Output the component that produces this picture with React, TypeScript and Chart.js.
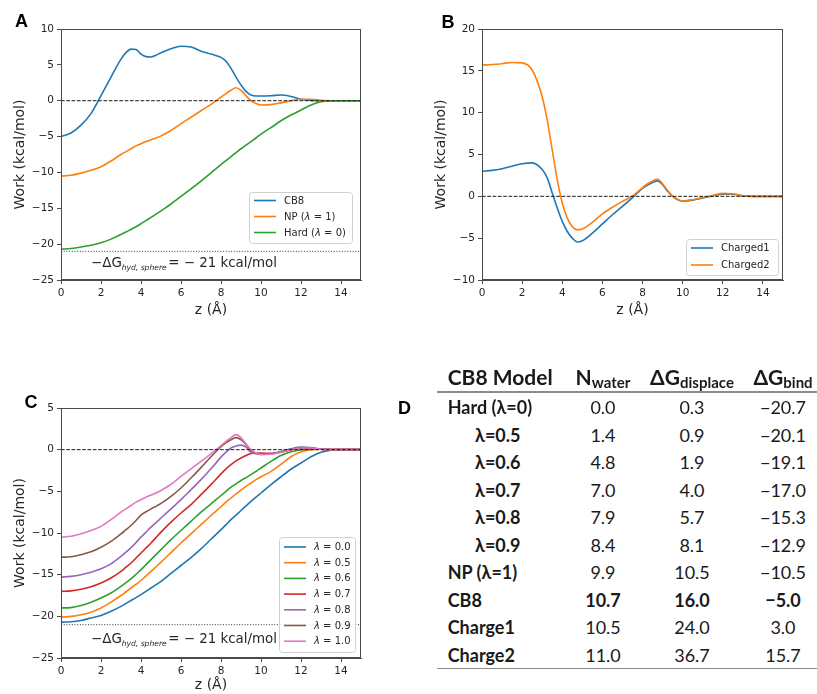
import React, { useEffect, useRef } from 'react';
import { Chart, registerables } from 'chart.js';

Chart.register(...registerables);

// ---------------- data ----------------
const Z = [0, 0.5, 1, 1.5, 2, 2.5, 3, 3.25, 3.5, 3.75, 4, 4.25, 4.5, 4.75, 5, 5.5, 6, 6.5, 7, 7.5, 8, 8.25, 8.5, 8.75, 9, 9.25, 9.5, 9.75, 10, 10.5, 11, 11.5, 12, 12.5, 13, 13.5, 14, 14.5, 15];

// Panel A
const CB8 = [-5.0, -4.5, -3.4, -1.8, 0.7, 3.3, 5.8, 6.7, 7.2, 7.15, 6.5, 6.15, 6.1, 6.35, 6.7, 7.25, 7.6, 7.5, 6.9, 6.5, 6.05, 5.5, 4.5, 3.3, 2.2, 1.3, 0.8, 0.65, 0.65, 0.7, 0.8, 0.6, 0.2, 0.05, 0, 0, 0, 0, 0];
const NP = [-10.5, -10.4, -10.1, -9.7, -9.2, -8.4, -7.5, -7.1, -6.7, -6.3, -6.0, -5.7, -5.45, -5.2, -4.9, -4.15, -3.2, -2.3, -1.4, -0.5, 0.5, 1.0, 1.45, 1.8, 1.45, 0.7, 0.0, -0.4, -0.6, -0.55, -0.3, 0.0, 0.2, 0.2, 0.05, 0, 0, 0, 0];
const HARD = [-20.7, -20.6, -20.4, -20.15, -19.8, -19.3, -18.65, -18.3, -17.95, -17.58, -17.15, -16.72, -16.27, -15.82, -15.35, -14.4, -13.35, -12.3, -11.2, -10.05, -8.9, -8.35, -7.8, -7.25, -6.7, -6.2, -5.7, -5.2, -4.65, -3.75, -2.8, -2.0, -1.3, -0.6, -0.15, 0, 0, 0, 0];

// Panel B
const CHARGED1 = [3.0, 3.1, 3.3, 3.6, 3.9, 4.0, 3.2, 2.2, 0.4, -1.4, -3.0, -4.2, -5.0, -5.45, -5.3, -4.4, -3.3, -2.2, -1.2, -0.15, 0.95, 1.35, 1.65, 1.85, 1.4, 0.6, 0.0, -0.4, -0.55, -0.45, -0.2, 0.05, 0.25, 0.25, 0.05, 0, 0, 0, 0];
const CHARGED2 = [15.7, 15.75, 15.85, 16.0, 15.95, 15.1, 11.9, 9.1, 5.55, 2.0, -0.8, -2.6, -3.6, -4.0, -3.9, -3.1, -2.1, -1.3, -0.6, 0.05, 1.05, 1.5, 1.85, 2.05, 1.5, 0.7, 0.05, -0.35, -0.55, -0.4, -0.15, 0.1, 0.35, 0.3, 0.05, 0, 0, 0, 0];

// Panel C
const L00 = [-20.7, -20.65, -20.5, -20.2, -19.9, -19.4, -18.8, -18.45, -18.1, -17.75, -17.4, -17.0, -16.6, -16.2, -15.8, -14.85, -13.9, -12.95, -11.9, -10.75, -9.6, -9.0, -8.4, -7.85, -7.3, -6.75, -6.2, -5.7, -5.2, -4.2, -3.25, -2.35, -1.6, -0.85, -0.3, -0.05, 0, 0, 0];
const L05 = [-20.1, -20.0, -19.8, -19.5, -19.0, -18.3, -17.5, -17.05, -16.6, -16.15, -15.7, -15.15, -14.6, -14.05, -13.5, -12.35, -11.2, -10.1, -9.0, -7.9, -6.85, -6.3, -5.8, -5.3, -4.85, -4.4, -4.0, -3.6, -3.25, -2.6, -1.75, -0.85, -0.25, 0.0, 0.05, 0, 0, 0, 0];
const L06 = [-19.0, -18.95, -18.7, -18.3, -17.8, -17.2, -16.4, -15.95, -15.5, -14.95, -14.4, -13.8, -13.2, -12.6, -12.0, -10.8, -9.7, -8.6, -7.5, -6.5, -5.5, -5.0, -4.5, -4.1, -3.7, -3.35, -3.0, -2.6, -2.2, -1.4, -0.7, -0.25, 0.0, 0.1, 0.05, 0, 0, 0, 0];
const L07 = [-17.0, -16.95, -16.75, -16.45, -16.0, -15.4, -14.6, -14.1, -13.6, -13.0, -12.4, -11.8, -11.2, -10.55, -9.9, -8.7, -7.6, -6.6, -5.4, -4.2, -2.9, -2.3, -1.8, -1.35, -1.0, -0.7, -0.45, -0.4, -0.4, -0.45, -0.3, 0.0, 0.15, 0.15, 0.05, 0, 0, 0, 0];
const L08 = [-15.3, -15.2, -15.0, -14.7, -14.3, -13.7, -12.8, -12.3, -11.75, -11.15, -10.5, -9.9, -9.3, -8.75, -8.2, -7.1, -6.0, -4.8, -3.6, -2.3, -0.9, -0.3, 0.2, 0.45, 0.55, 0.3, -0.3, -0.5, -0.55, -0.5, -0.25, 0.1, 0.3, 0.25, 0.05, 0, 0, 0, 0];
const L09 = [-12.9, -12.85, -12.6, -12.25, -11.7, -11.0, -10.1, -9.6, -9.1, -8.5, -7.85, -7.45, -7.1, -6.8, -6.45, -5.6, -4.6, -3.4, -2.15, -0.85, 0.35, 0.85, 1.2, 1.45, 1.2, 0.6, -0.1, -0.45, -0.55, -0.5, -0.25, 0.05, 0.25, 0.2, 0.05, 0, 0, 0, 0];
const L10 = NP;

const X_TICKS = [0, 2, 4, 6, 8, 10, 12, 14];
const A_Y_TICKS = [-25, -20, -15, -10, -5, 0, 5, 10];
const B_Y_TICKS = [-10, -5, 0, 5, 10, 15, 20];
const C_Y_TICKS = [-25, -20, -15, -10, -5, 0, 5];
const HYD_SPHERE = -21;

// Table D
const MODELS = ['Hard (λ=0)', 'λ=0.5', 'λ=0.6', 'λ=0.7', 'λ=0.8', 'λ=0.9', 'NP (λ=1)', 'CB8', 'Charge1', 'Charge2'];
const INDENTED = [false, true, true, true, true, true, false, false, false, false];
const N_WATER = [0.0, 1.4, 4.8, 7.0, 7.9, 8.4, 9.9, 10.7, 10.5, 11.0];
const DG_DISPLACE = [0.3, 0.9, 1.9, 4.0, 5.7, 8.1, 10.5, 16.0, 24.0, 36.7];
const DG_BIND = [-20.7, -20.1, -19.1, -17.0, -15.3, -12.9, -10.5, -5.0, 3.0, 15.7];
const BOLD_MODEL = 'CB8';

// ---------------- styles ----------------
const FONT = '"DejaVu Sans", sans-serif';
const INK = '#262626';
const SPINE = '#4a4a4a';
const C_BLUE = '#1f77b4';
const C_ORANGE = '#ff7f0e';
const C_GREEN = '#2ca02c';
const C_RED = '#d62728';
const C_PURPLE = '#9467bd';
const C_BROWN = '#8c564b';
const C_PINK = '#e377c2';

const fmtTick = (v: any) => {
  const n = Number(v);
  return n < 0 ? '\u2212' + Math.abs(n) : String(n);
};
const fmtNum = (n: number) => (n < 0 ? '\u2212' + Math.abs(n).toFixed(1) : n.toFixed(1));

function series(label: string, ys: number[], color: string) {
  return {
    label,
    data: Z.map((z, i) => ({ x: z, y: ys[i] })),
    borderColor: color,
    backgroundColor: color,
    borderWidth: 1.6,
    pointRadius: 0,
    cubicInterpolationMode: 'monotone',
    fill: false,
  };
}

function refLine(y: number, dash: number[], color: string) {
  return {
    label: '',
    data: [{ x: 0, y }, { x: 15, y }],
    borderColor: color,
    borderWidth: 1,
    borderDash: dash,
    pointRadius: 0,
    fill: false,
  };
}

function drawMixed(ctx: CanvasRenderingContext2D, text: string, x: number, y: number, size: number) {
  const parts = text.split(/(λ)/);
  let cx = x;
  for (const p of parts) {
    if (!p) continue;
    ctx.font = (p === 'λ' ? 'italic ' : '') + size + 'px ' + FONT;
    ctx.fillText(p, cx, y);
    cx += ctx.measureText(p).width;
  }
}

const decorPlugin = {
  id: 'decor',
  afterDatasetsDraw(chart: any, _args: any, opts: any) {
    const { ctx, chartArea: a } = chart;
    ctx.save();
    // frame (all four spines)
    ctx.strokeStyle = SPINE;
    ctx.lineWidth = 1;
    ctx.setLineDash([]);
    ctx.strokeRect(Math.round(a.left) + 0.5, Math.round(a.top) + 0.5, Math.round(a.right - a.left) - 1, Math.round(a.bottom - a.top) - 1);

    // annotation: −ΔG_{hyd, sphere} = − 21 kcal/mol
    if (opts && opts.note) {
      const { x, y, main, subWidth } = opts.note;
      ctx.fillStyle = INK;
      ctx.textBaseline = 'alphabetic';
      ctx.textAlign = 'left';
      let cx = x;
      ctx.font = main + 'px ' + FONT;
      ctx.fillText('\u2212ΔG', cx, y);
      cx += ctx.measureText('\u2212ΔG').width;
      const subText = 'hyd, sphere';
      ctx.font = 'italic 10px ' + FONT;
      const subSize = (10 * subWidth) / ctx.measureText(subText).width;
      ctx.font = 'italic ' + subSize + 'px ' + FONT;
      ctx.fillText(subText, cx, y + main * 0.22);
      cx += ctx.measureText(subText).width + 1.5;
      ctx.font = main + 'px ' + FONT;
      ctx.fillText('= \u2212 21 kcal/mol', cx, y);
    }

    // legend
    if (opts && opts.legend) {
      const { x, y, w, h, first, rowH } = opts.legend;
      ctx.beginPath();
      (ctx as any).roundRect(x + 0.5, y + 0.5, w, h, 3);
      ctx.fillStyle = 'rgba(255,255,255,0.85)';
      ctx.fill();
      ctx.strokeStyle = '#d0d0d0';
      ctx.lineWidth = 1;
      ctx.stroke();
      const items = chart.data.datasets.filter((d: any) => d.label);
      items.forEach((d: any, i: number) => {
        const cy = y + first + i * rowH;
        ctx.beginPath();
        ctx.strokeStyle = d.borderColor;
        ctx.lineWidth = 1.6;
        ctx.moveTo(x + 5, cy);
        ctx.lineTo(x + 27, cy);
        ctx.stroke();
        ctx.fillStyle = INK;
        ctx.textBaseline = 'middle';
        ctx.textAlign = 'left';
        drawMixed(ctx, d.label, x + 35, cy + 0.5, 10);
      });
    }
    ctx.restore();
  },
};

function buildConfig(p: any) {
  const datasets = p.datasets.map((d: any, i: number) => ({ ...d, order: p.datasets.length - i }));
  return {
    type: 'line',
    data: { datasets },
    plugins: [decorPlugin],
    options: {
      animation: false,
      responsive: false,
      devicePixelRatio: 1,
      layout: { padding: p.pad },
      plugins: {
        legend: { display: false },
        tooltip: { enabled: false },
        decor: { legend: p.legend, note: p.note },
      },
      scales: {
        x: {
          type: 'linear',
          min: 0,
          max: 15,
          afterBuildTicks: (s: any) => {
            s.ticks = X_TICKS.map((v) => ({ value: v }));
          },
          afterFit: (s: any) => {
            s.height = p.xH;
          },
          ticks: { color: INK, font: { family: FONT, size: 10.5 }, padding: 3, maxRotation: 0, callback: fmtTick },
          grid: { display: true, drawOnChartArea: false, drawTicks: true, tickLength: 4, color: SPINE, tickColor: SPINE },
          border: { display: true, color: SPINE, width: 1 },
          title: { display: true, text: 'z (Å)', color: INK, font: { family: FONT, size: 14 }, padding: { top: 0, bottom: p.xTitlePad } },
        },
        y: {
          type: 'linear',
          min: p.yTicks[0],
          max: p.yTicks[p.yTicks.length - 1],
          afterBuildTicks: (s: any) => {
            s.ticks = p.yTicks.map((v: number) => ({ value: v }));
          },
          afterFit: (s: any) => {
            s.width = p.yW;
          },
          ticks: { color: INK, font: { family: FONT, size: 10.5 }, padding: 3, callback: fmtTick },
          grid: { display: true, drawOnChartArea: false, drawTicks: true, tickLength: 4, color: SPINE, tickColor: SPINE },
          border: { display: true, color: SPINE, width: 1 },
          title: { display: true, text: 'Work (kcal/mol)', color: INK, font: { family: FONT, size: 14 }, padding: { top: p.yTitlePad, bottom: 0 } },
        },
      },
    },
  };
}

const ZERO_DASH = [3.7, 1.6];
const DOT_DASH = [1, 1.7];

const configA = () =>
  buildConfig({
    datasets: [
      series('CB8', CB8, C_BLUE),
      series('NP (λ = 1)', NP, C_ORANGE),
      series('Hard (λ = 0)', HARD, C_GREEN),
      refLine(0, ZERO_DASH, '#1a1a1a'),
      refLine(HYD_SPHERE, DOT_DASH, '#333'),
    ],
    yTicks: A_Y_TICKS,
    pad: { left: 0, top: 29, right: 49, bottom: 0 },
    yW: 61,
    xH: 50,
    yTitlePad: 11.6,
    xTitlePad: 11.6,
    legend: { x: 249, y: 192, w: 103, h: 51, first: 8.5, rowH: 16 },
    note: { x: 91, y: 267, main: 13.4, subWidth: 45 },
  });

const configB = () =>
  buildConfig({
    datasets: [series('Charged1', CHARGED1, C_BLUE), series('Charged2', CHARGED2, C_ORANGE), refLine(0, ZERO_DASH, '#1a1a1a')],
    yTicks: B_Y_TICKS,
    pad: { left: 0, top: 29, right: 34, bottom: 0 },
    yW: 72,
    xH: 50,
    yTitlePad: 23.3,
    xTitlePad: 11.6,
    legend: { x: 276, y: 239, w: 92, h: 36, first: 9, rowH: 17 },
    note: null,
  });

const configC = () =>
  buildConfig({
    datasets: [
      series('λ = 0.0', L00, C_BLUE),
      series('λ = 0.5', L05, C_ORANGE),
      series('λ = 0.6', L06, C_GREEN),
      series('λ = 0.7', L07, C_RED),
      series('λ = 0.8', L08, C_PURPLE),
      series('λ = 0.9', L09, C_BROWN),
      series('λ = 1.0', L10, C_PINK),
      refLine(0, ZERO_DASH, '#1a1a1a'),
      refLine(HYD_SPHERE, DOT_DASH, '#333'),
    ],
    yTicks: C_Y_TICKS,
    pad: { left: 0, top: 78, right: 49, bottom: 0 },
    yW: 61,
    xH: 36,
    yTitlePad: 11.6,
    xTitlePad: 0,
    legend: { x: 279, y: 207, w: 76, h: 115, first: 10, rowH: 15.7 },
    note: { x: 91, y: 313, main: 13.4, subWidth: 45 },
  });

function ChartBox({ left, top, width, height, make }: any) {
  const ref = useRef<HTMLCanvasElement>(null);
  useEffect(() => {
    const chart = new Chart(ref.current as HTMLCanvasElement, make() as any);
    return () => chart.destroy();
  }, []);
  return <canvas ref={ref} width={width} height={height} style={{ position: 'absolute', left, top, width, height }} />;
}

const LETTER_STYLE: any = {
  position: 'absolute',
  fontFamily: '"Liberation Sans", Arial, sans-serif',
  fontWeight: 'bold',
  fontSize: 18,
  lineHeight: '18px',
  color: '#000',
};

const TABLE_FONT = 'Lato, "Open Sans", sans-serif';
const TEXT_COLOR = '#1a1a1a';

function HeaderCell({ center, main, sub }: any) {
  return (
    <div
      style={{
        position: 'absolute',
        left: center,
        top: 363,
        transform: 'translateX(-50%)',
        whiteSpace: 'nowrap',
        fontFamily: TABLE_FONT,
        fontWeight: 'bold',
        fontSize: 21,
        lineHeight: '28px',
        color: TEXT_COLOR,
      }}
    >
      {main}
      <span style={{ fontSize: 15, position: 'relative', top: 3 }}>{sub}</span>
    </div>
  );
}

function TableD() {
  const rowTop = (i: number) => 407.7 + i * 27.5 - 14.5;
  const cell = (i: number, bold: boolean): any => ({
    position: 'absolute',
    top: rowTop(i),
    whiteSpace: 'nowrap',
    fontFamily: TABLE_FONT,
    fontSize: 18,
    lineHeight: '28px',
    fontWeight: bold ? 'bold' : 'normal',
    color: TEXT_COLOR,
  });
  return (
    <>
      <div
        style={{
          position: 'absolute',
          left: 447.7,
          top: 363,
          whiteSpace: 'nowrap',
          fontFamily: TABLE_FONT,
          fontWeight: 'bold',
          fontSize: 21,
          lineHeight: '28px',
          color: TEXT_COLOR,
        }}
      >
        CB8 Model
      </div>
      <HeaderCell center={603} main="N" sub="water" />
      <HeaderCell center={692} main="ΔG" sub="displace" />
      <HeaderCell center={783} main="ΔG" sub="bind" />
      <div style={{ position: 'absolute', left: 437, top: 391, width: 380, height: 1.5, background: '#8c8c8c' }} />
      <div style={{ position: 'absolute', left: 437, top: 667.5, width: 380, height: 1.5, background: '#8c8c8c' }} />
      {MODELS.map((m, i) => {
        const strong = m === BOLD_MODEL;
        return (
          <React.Fragment key={m}>
            <div style={{ ...cell(i, true), left: INDENTED[i] ? 475 : 447.7 }}>{m}</div>
            <div style={{ ...cell(i, strong), left: 603, transform: 'translateX(-50%)' }}>{fmtNum(N_WATER[i])}</div>
            <div style={{ ...cell(i, strong), left: 692, transform: 'translateX(-50%)' }}>{fmtNum(DG_DISPLACE[i])}</div>
            <div style={{ ...cell(i, strong), left: 783, transform: 'translateX(-50%)' }}>{fmtNum(DG_BIND[i])}</div>
          </React.Fragment>
        );
      })}
    </>
  );
}

export default function App() {
  return (
    <div style={{ position: 'absolute', left: 0, top: 0, width: 817, height: 694, background: '#fff', overflow: 'hidden' }}>
      <ChartBox left={0} top={0} width={410} height={330} make={configA} />
      <ChartBox left={410} top={0} width={407} height={330} make={configB} />
      <ChartBox left={0} top={330} width={410} height={364} make={configC} />
      <div style={{ ...LETTER_STYLE, left: 15, top: 11.7 }}>A</div>
      <div style={{ ...LETTER_STYLE, left: 441.5, top: 12.7 }}>B</div>
      <div style={{ ...LETTER_STYLE, left: 24.5, top: 392.7 }}>C</div>
      <div style={{ ...LETTER_STYLE, left: 398, top: 399.4 }}>D</div>
      <TableD />
    </div>
  );
}
